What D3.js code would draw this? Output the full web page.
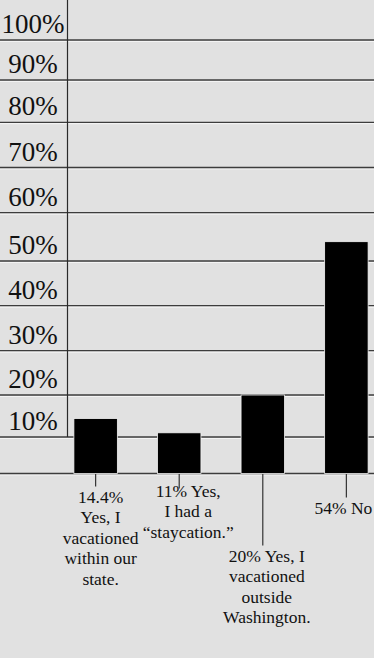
<!DOCTYPE html>
<html lang="en">
  <head>
    <meta charset="utf-8">
    <script type="text/javascript" src="https://cdn.jsdelivr.net/npm/d3@7"></script>
    <style>
      html, body { margin: 0; padding: 0; background: #e1e1e1; }
      svg { display: block; }
      text { font-family: "Liberation Serif", "DejaVu Serif", serif; fill: #111; }
    </style>
  </head>
  <body>
    <svg id="chart"></svg>
  </body>
  <script type="text/javascript">

    // data
    var categories = ['within', 'staycation', 'outside', 'no'];
    var values = [14.4, 11, 20, 54];
    var labels = [
      ['14.4%', 'Yes, I', 'vacationed', 'within our', 'state.'],
      ['11% Yes,', 'I had a', '\u201Cstaycation.\u201D'],
      ['20% Yes, I', 'vacationed', 'outside', 'Washington.'],
      ['54% No']
    ];
    var ticks = [10, 20, 30, 40, 50, 60, 70, 80, 90, 100];

    // layout
    var width = 374;
    var height = 658;
    // the printed axis is not evenly spaced, so the scale follows its gridlines
    var tickDomain = [0, 10, 20, 30, 40, 50, 60, 70, 80, 90, 100];
    var tickRange = [473.5, 437, 395, 350.7, 305.7, 261, 212.7, 167.5, 122.3, 80, 40];
    var leaderDrop = [13, 15, 72, 24];   // leader line length below the baseline
    var labelShift = [5, 9, 4, -3];      // label offset from the leader
    var lineGap = 20.5;

    var svg = d3.select('#chart')
      .attr('width', width)
      .attr('height', height);

    var y = d3.scaleLinear().domain(tickDomain).range(tickRange);

    var x = d3.scaleBand()
      .domain(categories)
      .range([53, 389])
      .paddingInner(0.48)
      .paddingOuter(0.25);

    var grid = svg.append('g');

    // gridlines (dark line with a light edge under it)
    grid.selectAll('line.hi')
      .data([0].concat(ticks)).enter()
      .append('line')
      .attr('class', 'hi')
      .attr('x1', 0).attr('x2', width)
      .attr('y1', function(d){ return y(d) + 1.4; })
      .attr('y2', function(d){ return y(d) + 1.4; })
      .attr('stroke', '#f7f7f7')
      .attr('stroke-width', 1);

    grid.selectAll('line.g')
      .data([0].concat(ticks)).enter()
      .append('line')
      .attr('class', 'g')
      .attr('x1', 0).attr('x2', width)
      .attr('y1', function(d){ return y(d); })
      .attr('y2', function(d){ return y(d); })
      .attr('stroke', '#3c3c3c')
      .attr('stroke-width', 1.3);

    // vertical axis rule
    grid.append('line')
      .attr('x1', 67.5).attr('x2', 67.5)
      .attr('y1', 0).attr('y2', y(10))
      .attr('stroke', '#2a2a2a')
      .attr('stroke-width', 1.2);

    // tick labels sit just above their line
    svg.selectAll('text.tick')
      .data(ticks).enter()
      .append('text')
      .attr('class', 'tick')
      .attr('x', 33)
      .attr('y', function(d){ return y(d) - 7; })
      .attr('text-anchor', 'middle')
      .style('font-size', '27px')
      .text(function(d){ return d + '%'; });

    // leader lines
    svg.selectAll('line.leader')
      .data(values).enter()
      .append('line')
      .attr('class', 'leader')
      .attr('x1', function(d, i){ return x(categories[i]) + x.bandwidth() / 2; })
      .attr('x2', function(d, i){ return x(categories[i]) + x.bandwidth() / 2; })
      .attr('y1', y(0))
      .attr('y2', function(d, i){ return y(0) + leaderDrop[i]; })
      .attr('stroke', '#333')
      .attr('stroke-width', 1.2);

    // bars
    svg.selectAll('rect.bar')
      .data(values).enter()
      .append('rect')
      .attr('class', 'bar')
      .attr('x', function(d, i){ return x(categories[i]); })
      .attr('y', function(d){ return y(d); })
      .attr('width', x.bandwidth())
      .attr('height', function(d){ return y(0) - y(d); })
      .attr('fill', '#000')
      .attr('stroke', '#f2f2f2')
      .attr('stroke-width', 0.8);

    // category labels
    var lab = svg.selectAll('text.cat')
      .data(labels).enter()
      .append('text')
      .attr('class', 'cat')
      .attr('text-anchor', 'middle')
      .style('font-size', '17.5px')
      .attr('transform', function(d, i){
        var cx = x(categories[i]) + x.bandwidth() / 2 + labelShift[i];
        var top = y(0) + leaderDrop[i] + 16;
        if (i === 1) top = y(0) + 23;
        return 'translate(' + cx + ',' + top + ')';
      });

    lab.selectAll('tspan')
      .data(function(d){ return d; }).enter()
      .append('tspan')
      .attr('x', 0)
      .attr('y', function(d, j){ return j * lineGap; })
      .text(function(d){ return d; });

  </script>
</html>
